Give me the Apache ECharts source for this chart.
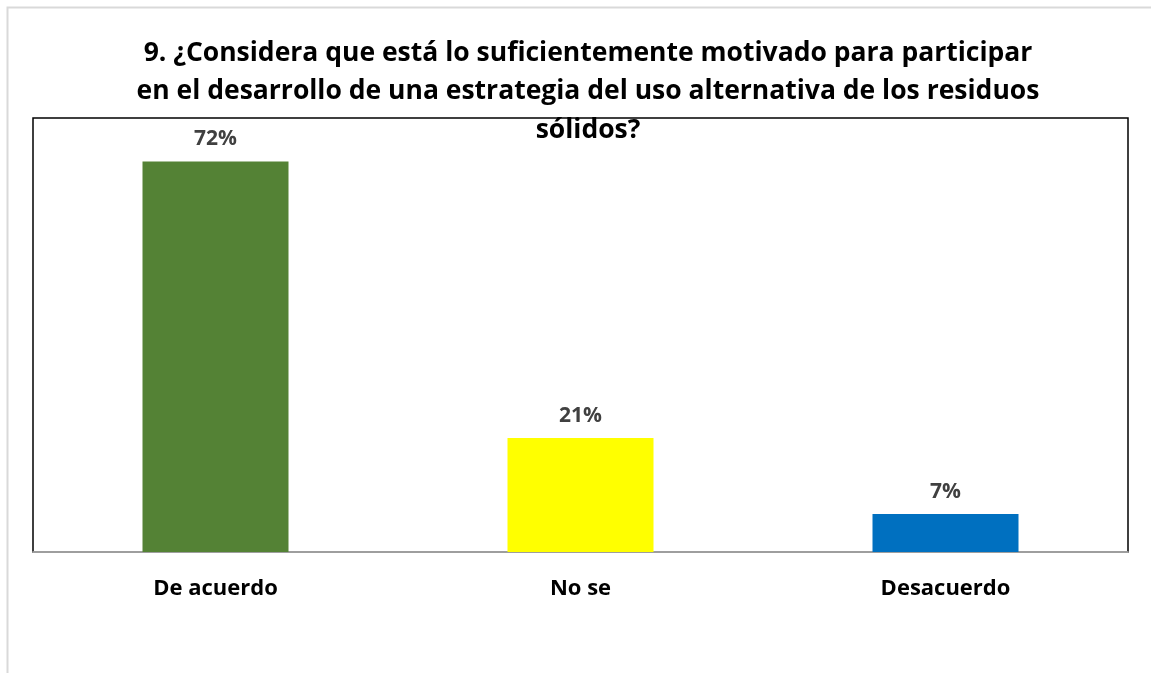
<!DOCTYPE html>
<html><head><meta charset="utf-8">
<script src="https://cdn.jsdelivr.net/npm/echarts@6/dist/echarts.min.js"></script>
<style>html,body{margin:0;padding:0;background:#fff}#c{width:1151px;height:673px}</style>
</head><body><div id="c"></div>
<script>
const categories = ['De acuerdo', 'No se', 'Desacuerdo'];
const values = [72, 21, 7];
const colors = ['#548235', '#FFFF00', '#0070C0'];
const titleText = '9. ¿Considera que está lo suficientemente motivado para participar\nen el desarrollo de una estrategia del uso alternativa de los residuos\nsólidos?';

const chart = echarts.init(document.getElementById('c'), null, {renderer: 'canvas'});
chart.setOption({
  backgroundColor: '#fff',
  animation: false,
  graphic: [{
    type: 'rect', shape: {x: 7.5, y: 7.5, width: 1200, height: 800},
    style: {fill: 'none', stroke: '#d9d9d9', lineWidth: 2}, z: -1
  }],
  title: {
    text: titleText,
    left: 583, top: 29, textAlign: 'center',
    textStyle: {fontFamily: 'Open Sans', fontWeight: 'bold', fontSize: 26.5, color: '#000', lineHeight: 38.5}
  },
  grid: {left: 33, right: 23, top: 118, bottom: 121, show: true, borderColor: '#000', borderWidth: 1.5, backgroundColor: 'transparent'},
  xAxis: {
    type: 'category', data: categories,
    axisLine: {lineStyle: {color: '#bfbfbf', width: 1.5}},
    axisTick: {show: false},
    axisLabel: {margin: 26, fontFamily: 'Open Sans', fontWeight: 'bold', fontSize: 22, color: '#000'}
  },
  yAxis: {
    type: 'value', min: 0, max: 80, show: false, splitLine: {show: false}
  },
  series: [{
    type: 'bar', barWidth: '40%',
    data: values.map((v, i) => ({value: v, itemStyle: {color: colors[i]}})),
    label: {show: true, position: 'top', distance: 12, formatter: '{c}%',
      fontFamily: 'Open Sans', fontWeight: 'bold', fontSize: 21, color: '#404040'}
  }]
});
</script></body></html>
